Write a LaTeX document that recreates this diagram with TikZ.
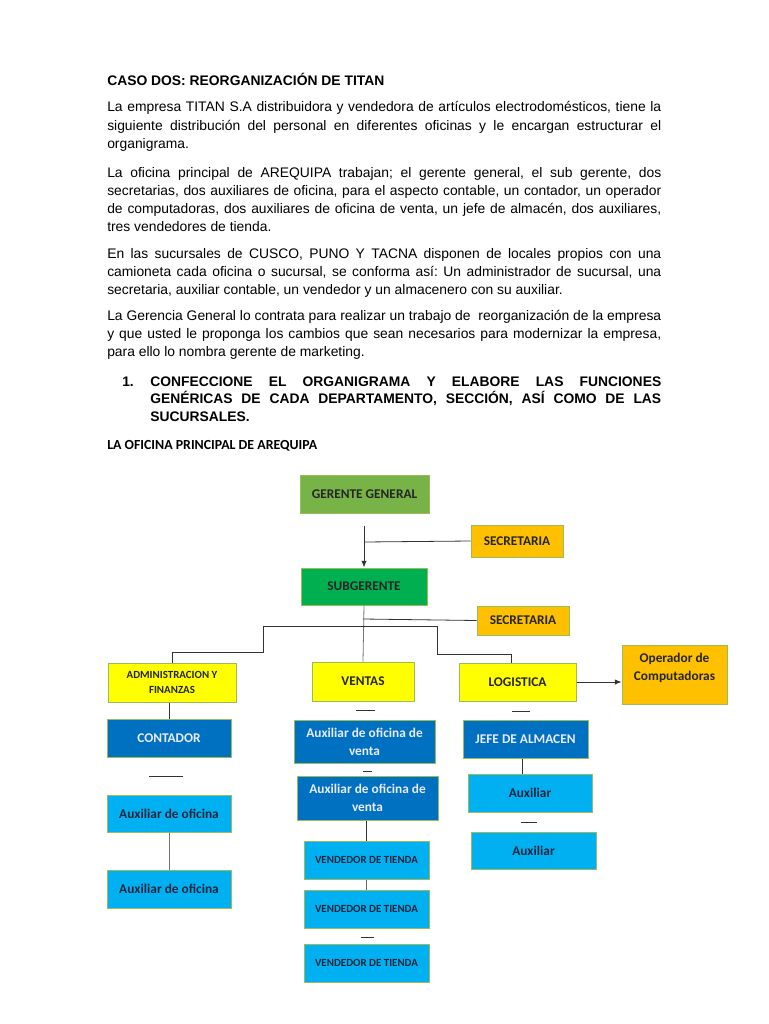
\documentclass[tikz,border=0pt]{standalone}
\usepackage{fontspec}
\setmainfont{Liberation Sans}
\newfontfamily\calibri{Carlito}
\usepackage{xcolor}
\usetikzlibrary{arrows.meta,calc}
\definecolor{ggreen}{RGB}{119,179,71}
\definecolor{sgreen}{RGB}{0,176,80}
\definecolor{amber}{RGB}{255,192,0}
\definecolor{yel}{RGB}{255,255,0}
\definecolor{dblue}{RGB}{0,112,192}
\definecolor{lblue}{RGB}{0,176,240}
\definecolor{boxline}{RGB}{155,187,89}
\definecolor{navytxt}{RGB}{22,38,62}
\frenchspacing

\begin{document}
\begin{tikzpicture}[x=0.75pt, y=-0.75pt,
  body/.style={anchor=base west, inner sep=0pt, text width=415.5pt, align=justify,
    font=\fontsize{10.4}{13.7}\selectfont},
  sz/.style 2 args={minimum width=#1*0.75pt, minimum height=#2*0.75pt},
  box/.style={draw=boxline, line width=0.75pt, align=center, inner sep=1pt,
    font=\calibri\bfseries\fontsize{10}{13.5}\selectfont, text=black!85},
  small/.style={font=\calibri\bfseries\fontsize{8.2}{11.5}\selectfont},
  dark/.style={box, fill=dblue, text=white!92!blue},
  light/.style={box, fill=lblue, text=navytxt},
  link/.style={line width=0.6pt, black!80},
]
\useasboundingbox (0,0) rectangle (768,1024);
\fill[white] (0,0) rectangle (768,1024);

% text of the case
\node[anchor=base west, inner sep=0pt, font=\bfseries\fontsize{10.4}{13.7}\selectfont] (title) at (107,85)
  {CASO DOS: REORGANIZACIÓN DE TITAN};
\node[body] (par1) at (107,112)
  {La empresa TITAN S.A distribuidora y vendedora de artículos electrodomésticos, tiene la\linebreak
   siguiente distribución del personal en diferentes oficinas y le encargan estructurar el\linebreak
   organigrama.};
\node[body] (par2) at (107,177)
  {La oficina principal de AREQUIPA trabajan; el gerente general, el sub gerente, dos\linebreak
   secretarias, dos auxiliares de oficina, para el aspecto contable, un contador, un operador\linebreak
   de computadoras, dos auxiliares de oficina de venta, un jefe de almacén, dos auxiliares,\linebreak
   tres vendedores de tienda.};
\node[body] (par3) at (107,258)
  {En las sucursales de CUSCO, PUNO Y TACNA disponen de locales propios con una\linebreak
   camioneta cada oficina o sucursal, se conforma así: Un administrador de sucursal, una\linebreak
   secretaria, auxiliar contable, un vendedor y un almacenero con su auxiliar.};
\node[body] (par4) at (107,320)
  {La Gerencia General lo contrata para realizar un trabajo de\ \ reorganización de la empresa\linebreak
   y que usted le proponga los cambios que sean necesarios para modernizar la empresa,\linebreak
   para ello lo nombra gerente de marketing.};
\node[anchor=base west, inner sep=0pt, font=\bfseries\fontsize{10.4}{13.3}\selectfont] (num) at (122,386) {1.};
\node[body, text width=383.25pt, font=\bfseries\fontsize{10.4}{13.3}\selectfont] (item) at (150,386)
  {CONFECCIONE EL ORGANIGRAMA Y ELABORE LAS FUNCIONES\linebreak
   GENÉRICAS DE CADA DEPARTAMENTO, SECCIÓN, ASÍ COMO DE LAS\linebreak
   SUCURSALES.};
\node[anchor=base west, inner sep=0pt, font=\calibri\bfseries\fontsize{10.4}{13}\selectfont] (office) at (107,449)
  {LA OFICINA PRINCIPAL DE AREQUIPA};

% top of the chart
\node[box, fill=ggreen, sz={129}{38}] (gg) at (364.5,494) {GERENTE GENERAL};
\node[box, fill=amber, sz={92}{32}] (sec1) at (517,541) {SECRETARIA};
\node[box, fill=sgreen, sz={126}{37}] (sub) at (364,586.5) {SUBGERENTE};
\node[box, fill=amber, sz={92}{29}] (sec2) at (523,620.5) {SECRETARIA};

% departments
\node[box, small, fill=yel, sz={128}{39}] (adm) at (172,682.5) {ADMINISTRACION Y\\FINANZAS};
\node[box, fill=yel, sz={102}{39}] (ven) at (363,681.5) {VENTAS};
\node[box, fill=yel, sz={117}{38}] (log) at (517.5,682) {LOGISTICA};
\node[box, fill=amber, sz={105}{59}] (ope) at (674.5,674.5) {};
\node[font=\calibri\bfseries\fontsize{10}{13.5}\selectfont, text=black!85, align=center] (opetxt)
  at (674.5,667.5) {Operador de\\Computadoras};

% administracion
\node[dark, sz={124}{38}] (cont) at (169,738) {CONTADOR};
\node[light, sz={124}{37}] (auxo1) at (169,813.5) {Auxiliar de oficina};
\node[light, sz={124}{38}] (auxo2) at (169,889) {Auxiliar de oficina};

% ventas
\node[dark, sz={141}{43}] (auxv1) at (364.5,741.5) {Auxiliar de oficina de\\venta};
\node[dark, sz={141}{44}] (auxv2) at (367.5,798) {Auxiliar de oficina de\\venta};
\node[light, small, sz={125}{38}] (vt1) at (366.5,860) {VENDEDOR DE TIENDA};
\node[light, small, sz={125}{38}] (vt2) at (366.5,909) {VENDEDOR DE TIENDA};
\node[light, small, sz={125}{38}] (vt3) at (366.5,963) {VENDEDOR DE TIENDA};

% logistica
\node[dark, sz={125}{38}] (jefe) at (525.5,739) {JEFE DE ALMACEN};
\node[light, sz={124}{38}] (auxl1) at (530,793) {Auxiliar};
\node[light, sz={125}{37}] (auxl2) at (533.5,850.5) {Auxiliar};

% connectors
\coordinate (g1) at (364,526);
\coordinate (g2) at (364,542);
\coordinate (s1) at (363,619);
\coordinate (b1) at (437,626);
\draw[link, -{Latex[length=5pt,width=4pt]}] (g1) -- (sub.north);
\draw[link] (g2) -- (sec1.west);
\draw[link, black!55] (sub.south) -- (ven.north);
\draw[link] (s1) -- (sec2.west);
\draw[link] (b1) -- (263,626) -- (263,652) -| (adm.north);
\draw[link] (b1) -- (437,654) -| ([xshift=-4.5]log.north);
\draw[link, -{Latex[length=5pt,width=4pt]}] (log.east) -- (log.east -| ope.west);
\draw[link] (cont.north |- adm.south) -- (cont.north);
\draw[link, black!55] (auxo1.south) -- (auxo2.north);
\draw[link] (vt1.north |- auxv2.south) -- (vt1.north);
\draw[link, black!60] (vt1.south) -- (vt2.north);
\draw[link] ([xshift=-2.5]jefe.south) -- ([xshift=-2.5]jefe.south |- auxl1.north);

% loose marks below some boxes
\foreach \n/\a/\b/\d in {ven/-7/12/9, log/-5.5/12.5/10, auxv1/-1.5/7.5/8,
    cont/-20/14/19, auxl1/-9/7/10, vt2/-5.5/7.5/9}
  \draw[link] ($(\n.south)+(\a,\d)$) -- ($(\n.south)+(\b,\d)$);
\end{tikzpicture}
\end{document}
